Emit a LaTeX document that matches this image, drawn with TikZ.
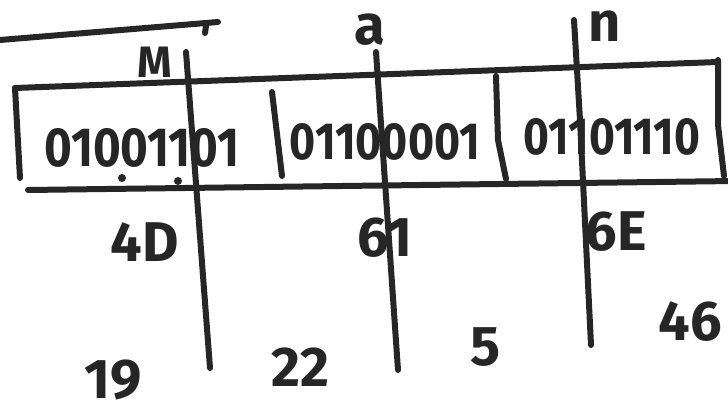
\documentclass[tikz,border=0pt]{standalone}
\usepackage{fontspec}
\setmainfont{Fira Sans}
\begin{document}
\begin{tikzpicture}[x=1pt,y=-1pt,
  line width=6pt, line cap=round, line join=round, draw={black!85},
  lbl/.style={inner sep=0pt, text={black!85}, font=\fontsize{56}{56}\selectfont\bfseries},
  bits/.style={inner sep=0pt, text={black!85}}]
\useasboundingbox (0,0) rectangle (728,414);
% partial line at the top
\draw (0,40) -- (218,22);
\draw (206,26) -- (205,33);
% byte box
\draw (15,88) -- (718,62);
\draw (28,190) -- (735,181);
\draw (15,88) -- (20,178);
\draw (718,60) -- (718,125) -- (724,176);
\draw (272,92) -- (282,176);
\draw (496,76) -- (498,140) -- (506,179);
% sextet dividers
\draw (186,52) -- (210,368);
\draw (376,52) -- (398,370);
\draw (574,20) -- (580,120) -- (591,345);
% bit strings
\node[bits] (b1) at (142,148) {\resizebox{195pt}{38pt}{\bfseries 01001101}};
\node[bits] (b2) at (385,142) {\resizebox{190pt}{36pt}{\bfseries 01100001}};
\node[bits] (b3) at (612,137) {\resizebox{176pt}{36pt}{\bfseries 01101110}};
\fill[black!85] (122,178) circle (4pt) (178,181) circle (4pt);
% characters
\node[lbl,font=\fontsize{44}{44}\selectfont\bfseries] (cM) at (155,62) {M};
\node[lbl] (ca) at (370,30) {a};
\node[lbl] (cn) at (605,26) {n};
% hex values
\node[lbl] (h1) at (145,242) {4D};
\node[lbl] (h2) at (385,238) {61};
\node[lbl] (h3) at (616,232) {6E};
% base64 indices
\node[lbl] (s1) at (113,380) {19};
\node[lbl] (s2) at (300,367) {22};
\node[lbl] (s3) at (486,347) {5};
\node[lbl] (s4) at (690,322) {46};
\end{tikzpicture}
\end{document}
